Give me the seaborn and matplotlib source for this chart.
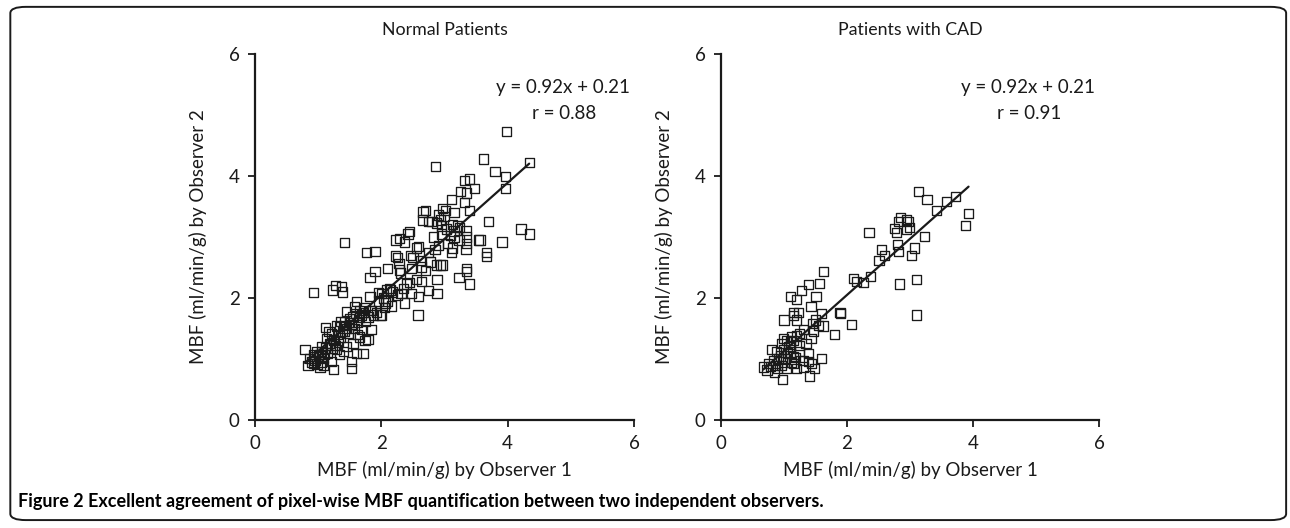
import matplotlib
matplotlib.use("Agg")
import matplotlib.pyplot as plt
from matplotlib.patches import FancyBboxPatch
import pandas as pd
import seaborn as sns

# Normal patients: observer 1 vs observer 2 (ml/min/g)
normal_obs1 = [3.98, 3.62, 3.80, 3.97, 3.97, 4.34, 3.69, 3.56, 3.91, 4.21, 4.34, 3.67, 3.67,
               2.86, 3.31, 3.39, 3.47, 3.25, 3.35, 3.11, 3.32, 3.40, 2.97, 3.01, 2.66, 2.70, 3.15,
               2.65, 2.74, 2.80, 2.91, 2.93, 2.99, 2.87, 2.95, 3.03, 3.13, 3.20, 3.24, 3.34, 3.09,
               3.15, 3.23, 3.35, 3.35, 3.54, 2.45, 2.42, 2.23, 2.29, 2.36, 2.82, 2.90, 2.56, 2.59,
               3.11, 3.13, 3.34, 2.22, 2.26, 2.46, 2.50, 2.78, 2.87, 2.94, 2.97, 2.64, 2.48, 2.28,
               2.29, 2.30, 2.10, 3.23, 3.35, 3.35, 3.39, 2.88, 2.64, 2.40, 2.45, 2.08, 2.13, 2.31,
               2.48, 2.59, 2.75, 2.88, 2.37, 2.58, 2.00, 2.06, 2.16, 2.00,
               1.42, 1.77, 1.90, 1.90, 1.82, 1.27, 1.37, 1.23, 1.38, 0.92, 1.82, 1.95, 2.03, 2.14,
               2.18, 1.61, 1.58, 1.66, 1.74, 1.82, 1.92, 1.98, 1.79, 1.69, 1.45, 1.50, 1.53, 1.42,
               1.34, 1.42, 1.11, 1.29, 1.21, 1.13, 1.24, 1.32, 1.19, 1.69, 1.85, 1.79, 1.66, 1.74,
               1.05, 0.98, 1.03, 1.08, 0.95, 0.87, 0.79, 0.84, 0.92, 1.03, 1.08, 1.21, 1.24, 1.53,
               1.53, 1.61, 1.71, 1.29, 1.40, 1.34,
               1.55, 1.60, 1.65, 1.72, 1.50, 1.45, 1.38, 1.30, 1.25, 1.18, 1.12, 1.05, 1.00, 0.95,
               0.90, 1.15, 1.22, 1.35, 1.48, 1.40, 1.58, 1.28, 1.10, 0.98, 1.85, 1.88, 1.75, 1.62,
               2.05, 2.10, 2.25, 2.35, 2.55, 2.70, 2.62, 2.75, 2.85, 3.05, 2.95, 3.15, 1.95, 1.55,
               1.45, 1.62, 1.36, 1.17, 1.05, 0.93]
normal_obs2 = [4.73, 4.28, 4.07, 3.99, 3.79, 4.22, 3.26, 2.95, 2.92, 3.13, 3.05, 2.74, 2.68,
               4.15, 3.93, 3.95, 3.79, 3.74, 3.72, 3.62, 3.56, 3.43, 3.47, 3.44, 3.41, 3.43, 3.40,
               3.28, 3.26, 3.25, 3.36, 3.28, 3.33, 3.23, 3.18, 3.13, 3.21, 3.18, 3.16, 3.11, 3.03,
               3.00, 2.95, 3.00, 2.90, 2.95, 3.09, 3.05, 2.95, 2.98, 2.92, 3.00, 2.86, 2.82, 2.84,
               2.74, 2.82, 2.79, 2.69, 2.67, 2.70, 2.67, 2.59, 2.54, 2.54, 2.54, 2.51, 2.49, 2.57,
               2.46, 2.41, 2.49, 2.33, 2.49, 2.43, 2.23, 2.30, 2.27, 2.23, 2.25, 2.13, 2.16, 2.08,
               2.07, 2.02, 2.12, 2.07, 1.92, 1.72, 2.08, 1.92, 1.87, 1.72,
               2.91, 2.74, 2.76, 2.43, 2.33, 2.21, 2.19, 2.13, 2.10, 2.09, 2.02, 2.09, 2.00, 2.13,
               2.10, 1.94, 1.86, 1.80, 1.84, 1.80, 1.76, 1.72, 1.69, 1.72, 1.78, 1.67, 1.56, 1.61,
               1.53, 1.45, 1.52, 1.54, 1.42, 1.34, 1.32, 1.28, 1.23, 1.48, 1.49, 1.32, 1.36, 1.31,
               1.20, 1.12, 1.07, 1.01, 1.04, 1.01, 1.15, 0.89, 0.93, 0.87, 0.90, 0.96, 0.83, 0.96,
               0.85, 1.09, 1.09, 1.15, 1.12, 1.07,
               1.70, 1.75, 1.68, 1.76, 1.60, 1.50, 1.45, 1.40, 1.30, 1.25, 1.18, 1.12, 1.05, 0.98,
               0.95, 1.10, 1.18, 1.35, 1.42, 1.55, 1.50, 1.22, 1.08, 0.92, 1.80, 1.72, 1.62, 1.60,
               1.85, 1.95, 2.05, 2.15, 2.30, 2.45, 2.62, 2.75, 2.80, 2.90, 3.05, 3.10, 1.95, 1.25,
               1.20, 1.40, 1.62, 1.45, 0.95, 1.07]

# Patients with CAD
cad_obs1 = [3.14, 3.27, 3.42, 3.58, 3.72, 3.93, 3.88, 2.85, 2.82, 2.95, 2.97, 2.76, 2.79, 2.94,
            2.99, 2.35, 3.23, 2.80, 2.82, 3.07, 3.02, 2.55, 2.59, 2.51, 2.10, 2.15, 2.26, 2.37,
            2.83, 3.10, 3.10, 1.90, 2.07,
            1.63, 1.39, 1.56, 1.28, 1.10, 1.20, 1.51, 1.43, 1.15, 1.23, 1.15, 1.00, 1.20, 1.60,
            1.50, 1.62, 1.89, 1.80, 1.47, 1.43, 1.31, 1.25, 1.20, 1.12, 0.99, 1.04, 1.10, 0.96,
            0.80, 0.88, 0.99, 1.10, 1.15, 1.02, 0.91, 0.83, 0.75, 0.67, 0.73, 0.86, 0.96, 1.04,
            1.15, 1.20, 1.31, 1.31, 1.39, 1.39, 1.44, 1.60, 1.49, 1.41, 0.98,
            0.95, 1.05, 1.08, 1.00, 0.90, 0.78, 1.25, 1.18, 1.35, 1.55, 1.45, 1.15, 1.25, 0.85,
            1.12]
cad_obs2 = [3.75, 3.62, 3.43, 3.58, 3.67, 3.39, 3.19, 3.32, 3.25, 3.28, 3.25, 3.14, 3.08, 3.13,
            3.16, 3.07, 3.01, 2.88, 2.76, 2.82, 2.70, 2.79, 2.70, 2.62, 2.32, 2.27, 2.26, 2.35,
            2.23, 2.31, 1.72, 1.75, 1.57,
            2.43, 2.22, 2.24, 2.12, 2.02, 1.98, 2.02, 1.86, 1.76, 1.76, 1.71, 1.64, 1.64, 1.75,
            1.64, 1.54, 1.76, 1.40, 1.46, 1.34, 1.48, 1.42, 1.39, 1.37, 1.34, 1.31, 1.28, 1.26,
            1.15, 1.12, 1.15, 1.09, 1.04, 1.01, 1.01, 0.98, 0.93, 0.87, 0.82, 0.90, 0.90, 0.85,
            0.93, 0.85, 0.87, 0.98, 1.09, 0.96, 0.93, 1.01, 0.85, 0.72, 0.67,
            1.05, 1.10, 1.20, 0.95, 0.85, 0.88, 1.12, 1.02, 1.25, 1.55, 1.58, 1.30, 1.22, 0.78,
            0.95]

panel_titles = ["Normal Patients", "Patients with CAD"]
slopes = [0.92, 0.92]
intercepts = [0.21, 0.21]
r_values = [0.88, 0.91]
ticks = [0, 2, 4, 6]

ink = "#1a1a1a"

sns.set_style("ticks")
plt.rcParams["font.family"] = ["Lato", "DejaVu Sans"]

fig = plt.figure(figsize=(12.9, 5.28), dpi=100)
ax1 = fig.add_axes([0.1977, 0.2045, 0.2938, 0.6932])
ax2 = fig.add_axes([0.5589, 0.2045, 0.2930, 0.6932])

panels = [(ax1, normal_obs1, normal_obs2), (ax2, cad_obs1, cad_obs2)]
for i, (ax, xs, ys) in enumerate(panels):
    df = pd.DataFrame({"obs1": xs, "obs2": ys})
    sns.scatterplot(data=df, x="obs1", y="obs2", ax=ax, marker="s", s=44,
                    facecolor="none", edgecolor=ink, linewidth=0.95, zorder=2)
    # fitted line from the published equation, over the observed range
    line = pd.DataFrame({"obs1": [df.obs1.min(), df.obs1.max()]})
    line["obs2"] = slopes[i] * line["obs1"] + intercepts[i]
    sns.lineplot(data=line, x="obs1", y="obs2", ax=ax, color=ink, linewidth=1.6, zorder=3)

    ax.set_xlim(0, 6)
    ax.set_ylim(0, 6)
    ax.set_xticks(ticks)
    ax.set_yticks(ticks)
    ax.tick_params(direction="out", length=5, width=1.3, colors=ink, labelsize=13.5, pad=6)
    for sp in ["left", "bottom"]:
        ax.spines[sp].set_linewidth(1.6)
        ax.spines[sp].set_color(ink)
    sns.despine(ax=ax)
    ax.set_title(panel_titles[i], fontsize=12.8, color=ink, pad=14)
    ax.set_xlabel("MBF (ml/min/g) by Observer 1", fontsize=13.5, color=ink, labelpad=6)
    ax.set_ylabel("MBF (ml/min/g) by Observer 2", fontsize=13.5, color=ink, labelpad=16)
    ax.text(4.87, 5.45, f"y = {slopes[i]}x + {intercepts[i]}", ha="center", va="center",
            fontsize=13.5, color=ink)
    ax.text(4.9, 5.03, f"r = {r_values[i]}", ha="center", va="center",
            fontsize=13.5, color=ink)

fig.text(0.014, 0.05, "Figure 2 Excellent agreement of pixel-wise MBF quantification between two independent observers.",
         fontsize=13, fontweight="bold", color="black", ha="left", va="center")

frame = FancyBboxPatch((0.008, 0.015), 0.989, 0.972, boxstyle="round,pad=0,rounding_size=0.012",
                       transform=fig.transFigure, fill=False, edgecolor=ink, linewidth=1.4)
fig.patches.append(frame)

fig.savefig("out.png", dpi=100)
